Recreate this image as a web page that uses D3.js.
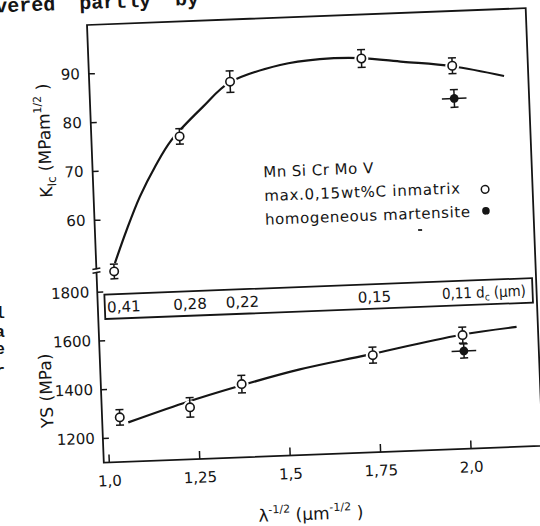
<!DOCTYPE html>
<html lang="en">
<head>
  <meta charset="UTF-8">
  <script src="https://d3js.org/d3.v7.min.js"></script>
  <title>KIc and YS versus lambda^-1/2</title>
  <style>
    body { margin: 0; background: #fff; }
    svg text { font-family: "DejaVu Sans", sans-serif; fill: #151515; }
    .page { font-family: "Liberation Mono", monospace; font-weight: bold; }
    .curve { fill: none; stroke: #151515; stroke-width: 2.2; }
    .frame { fill: none; stroke: #151515; stroke-width: 1.8; }
    .err { stroke: #151515; stroke-width: 1.5; }
  </style>
</head>
<body>
  <svg width="540" height="526"></svg>

  <script>
    const width = 540, height = 526;

    // lambda^-1/2 (um^-1/2) of the five structures, with carbide size d_c
    const lambdaInv = [1.035, 1.23, 1.375, 1.74, 1.99];
    const dcLabels = ["0,41", "0,28", "0,22", "0,15"];
    const dcLast = "0,11";

    // max. 0.15 wt% C in matrix (open circles)
    const kicValues = [49.3, 76.4, 87.2, 90.9, 88.7];
    const kicErrors = [1.5, 1.6, 2.2, 1.8, 1.6];
    const ysValues = [1282, 1312, 1399, 1497, 1565];
    const ysErrors = [32, 40, 36, 33, 33];

    // homogeneous martensite (filled circle)
    const martX = [1.992];
    const martXErr = [0.034];
    const martKic = [82.0];
    const martKicErr = [1.8];
    const martYs = [1500];
    const martYsErr = [29];

    // hand drawn curves
    const kicCurveX = [1.038, 1.074, 1.114, 1.159, 1.207, 1.298, 1.373, 1.515, 1.625, 1.736, 1.855, 1.99, 2.132];
    const kicCurveY = [51, 57.7, 64.4, 70.4, 75.7, 82.3, 87.0, 90.2, 91.1, 91.0, 89.9, 88.6, 86.2];
    const ysCurveX = [1.058, 1.212, 1.361, 1.537, 1.723, 1.983, 2.14];
    const ysCurveY = [1260, 1330, 1389, 1450, 1498, 1566, 1590];

    const xTicks = [1.0, 1.25, 1.5, 1.75, 2.0];
    const kicTicks = [60, 70, 80, 90];
    const ysTicks = [1200, 1400, 1600, 1800];

    const legendLines = ["Mn Si Cr Mo V", "max.0,15wt%C inmatrix", "homogeneous martensite"];

    const svg = d3.select("svg");
    svg.append("rect").attr("width", width).attr("height", height).attr("fill", "#fff");

    // the scan is slightly tilted, so the whole page is drawn in a rotated frame
    const g = svg.append("g").attr("transform", "translate(87,25) rotate(-2.2)");
    const W = 439, H = 438;

    const x = d3.scaleLinear().domain([1, 2]).range([5, 367]);
    const yK = d3.scaleLinear().domain([60, 90]).range([195, 48.4]);
    const yYS = d3.scaleLinear().domain([1200, 1800]).range([413.3, 267]);

    // bits of the typed page around the figure
    g.append("text").attr("class", "page")
      .attr("x", -115).attr("y", -16)
      .attr("font-size", 20)
      .attr("xml:space", "preserve")
      .text("covered  partly  by");

    [["l", 318], ["a", 337], ["e", 354], ["r", 376]].forEach(d => {
      svg.append("text").attr("class", "page")
        .attr("x", 5).attr("y", d[1])
        .attr("text-anchor", "end")
        .attr("font-size", 17)
        .text(d[0]);
    });

    g.append("rect").attr("class", "frame").attr("width", W).attr("height", H);

    const commaFmt = d => (Number.isInteger(d) ? d.toFixed(1) : String(d)).replace(".", ",");

    function styleAxis(sel) {
      sel.select(".domain").remove();
      sel.selectAll("line").attr("stroke", "#151515").attr("stroke-width", 1.5);
      sel.selectAll("text")
        .attr("font-size", 15)
        .attr("font-family", "DejaVu Sans, sans-serif")
        .attr("fill", "#151515");
    }

    g.append("g")
      .attr("transform", `translate(0,${H})`)
      .call(d3.axisBottom(x).tickValues(xTicks).tickSize(-8).tickPadding(13).tickFormat(commaFmt))
      .call(styleAxis);

    g.append("g")
      .call(d3.axisLeft(yK).tickValues(kicTicks).tickSize(-6).tickPadding(9).tickFormat(d3.format("d")))
      .call(styleAxis);

    g.append("g")
      .call(d3.axisLeft(yYS).tickValues(ysTicks).tickSize(-6).tickPadding(8).tickFormat(d3.format("d")))
      .call(styleAxis);

    // axis break
    g.append("rect").attr("x", -1.5).attr("y", 244.6).attr("width", 3).attr("height", 2.4).attr("fill", "#fff");
    [244, 247.6].forEach(yy => {
      g.append("line").attr("class", "err")
        .attr("x1", -4).attr("x2", 4).attr("y1", yy + 0.6).attr("y2", yy - 0.6);
    });

    // axis titles
    const kTitle = g.append("text")
      .attr("transform", "translate(-41,114) rotate(-90)")
      .attr("text-anchor", "middle")
      .attr("font-size", 17);
    kTitle.append("tspan").text("K");
    kTitle.append("tspan").attr("font-size", 12).attr("dy", 4).text("Ic");
    kTitle.append("tspan").attr("dy", -4).text(" (MPam");
    kTitle.append("tspan").attr("font-size", 11).attr("dy", -8).text("1/2");
    kTitle.append("tspan").attr("dy", 8).text(" )");

    g.append("text")
      .attr("transform", "translate(-49,364) rotate(-90)")
      .attr("text-anchor", "middle")
      .attr("font-size", 17)
      .text("YS (MPa)");

    const xTitle = g.append("text")
      .attr("x", 205).attr("y", 503)
      .attr("text-anchor", "middle")
      .attr("font-size", 17);
    xTitle.append("tspan").text("λ");
    xTitle.append("tspan").attr("font-size", 11).attr("dy", -8).text("-1/2");
    xTitle.append("tspan").attr("dy", 8).text(" (µm");
    xTitle.append("tspan").attr("font-size", 11).attr("dy", -8).text("-1/2");
    xTitle.append("tspan").attr("dy", 8).text(" )");

    // carbide size strip
    g.append("rect").attr("class", "frame")
      .attr("x", 7).attr("y", 270).attr("width", 428).attr("height", 24.5)
      .attr("stroke-width", 1.6);

    g.selectAll(".dc")
      .data(dcLabels)
      .enter()
      .append("text")
      .attr("class", "dc")
      .attr("x", (d, i) => Math.max(x(lambdaInv[i]) + 4, 26))
      .attr("y", 288)
      .attr("text-anchor", "middle")
      .attr("font-size", 15)
      .text(d => d);

    const dcEnd = g.append("text")
      .attr("x", x(lambdaInv[4]) - 19)
      .attr("y", 287.5)
      .attr("font-size", 15)
      .attr("textLength", 84)
      .attr("lengthAdjust", "spacingAndGlyphs");
    dcEnd.append("tspan").text(dcLast + " d");
    dcEnd.append("tspan").attr("font-size", 10).attr("dy", 3).text("c");
    dcEnd.append("tspan").attr("dy", -3).text(" (µm)");

    // curves
    const kLine = d3.line().x(d => x(d[0])).y(d => yK(d[1])).curve(d3.curveCatmullRom.alpha(0.5));
    const ysLine = d3.line().x(d => x(d[0])).y(d => yYS(d[1])).curve(d3.curveCatmullRom.alpha(0.5));

    g.append("path").attr("class", "curve").attr("d", kLine(d3.zip(kicCurveX, kicCurveY)));
    g.append("path").attr("class", "curve").attr("d", ysLine(d3.zip(ysCurveX, ysCurveY)));

    function drawOpen(ys, vals, errs) {
      const pts = lambdaInv.map((v, i) => ({
        cx: x(v), cy: ys(vals[i]), lo: ys(vals[i] - errs[i]), hi: ys(vals[i] + errs[i])
      }));
      const grp = g.append("g");
      // white halo cuts the curve around each marker
      grp.selectAll(".halo").data(pts).enter().append("circle")
        .attr("cx", d => d.cx).attr("cy", d => d.cy).attr("r", 7).attr("fill", "#fff");
      pts.forEach(d => {
        grp.append("line").attr("class", "err").attr("x1", d.cx).attr("x2", d.cx).attr("y1", d.lo).attr("y2", d.hi);
        [d.lo, d.hi].forEach(yy => {
          grp.append("line").attr("class", "err").attr("x1", d.cx - 4).attr("x2", d.cx + 4).attr("y1", yy).attr("y2", yy);
        });
      });
      grp.selectAll(".pt").data(pts).enter().append("circle")
        .attr("cx", d => d.cx).attr("cy", d => d.cy).attr("r", 4.2)
        .attr("fill", "#fff").attr("stroke", "#151515").attr("stroke-width", 1.6);
    }

    function drawFilled(ys, val, err) {
      const cx = x(martX[0]), cy = ys(val), lo = ys(val - err), hi = ys(val + err);
      g.append("line").attr("class", "err").attr("x1", cx).attr("x2", cx).attr("y1", lo).attr("y2", hi);
      [lo, hi].forEach(yy => {
        g.append("line").attr("class", "err").attr("x1", cx - 4).attr("x2", cx + 4).attr("y1", yy).attr("y2", yy);
      });
      g.append("line").attr("class", "err").attr("stroke-width", 1.8)
        .attr("x1", x(martX[0] - martXErr[0])).attr("x2", x(martX[0] + martXErr[0]))
        .attr("y1", cy).attr("y2", cy);
      g.append("circle").attr("cx", cx).attr("cy", cy).attr("r", 4.4).attr("fill", "#151515");
    }

    drawOpen(yK, kicValues, kicErrors);
    drawOpen(yYS, ysValues, ysErrors);
    drawFilled(yK, martKic[0], martKicErr[0]);
    drawFilled(yYS, martYs[0], martYsErr[0]);

    // legend
    const legend = g.append("g");
    const legendWidths = [110, 196, 205];
    legend.selectAll("text")
      .data(legendLines)
      .enter()
      .append("text")
      .attr("x", 170.5)
      .attr("y", (d, i) => 159 + i * 23.7)
      .attr("font-size", 15)
      .attr("textLength", (d, i) => legendWidths[i])
      .attr("lengthAdjust", "spacing")
      .text(d => d);
    legend.append("circle").attr("cx", 391.5).attr("cy", 179.5).attr("r", 3.8)
      .attr("fill", "#fff").attr("stroke", "#151515").attr("stroke-width", 1.5);
    legend.append("circle").attr("cx", 391.5).attr("cy", 201).attr("r", 3.8).attr("fill", "#151515");

    // small speck in the scan
    g.append("rect").attr("x", 323).attr("y", 216.6).attr("width", 4).attr("height", 2).attr("fill", "#333");
  </script>
</body>
</html>
